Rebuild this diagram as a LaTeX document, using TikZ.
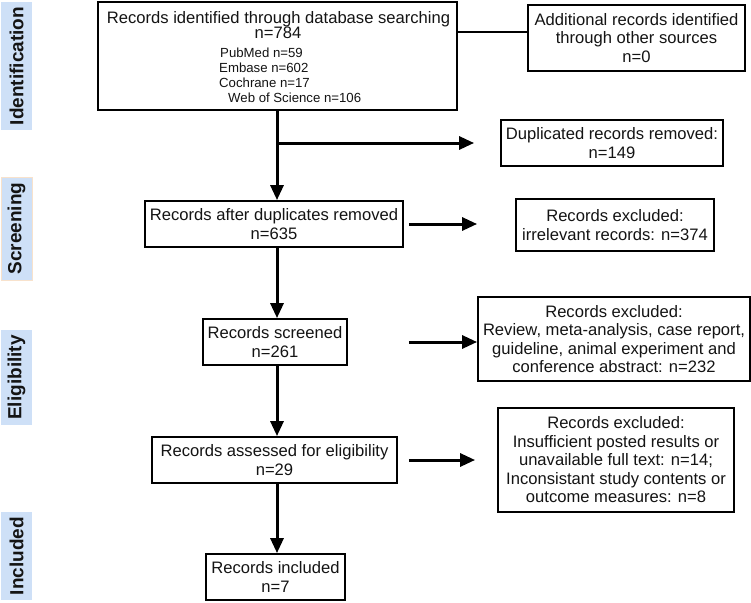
\documentclass[tikz,border=0pt]{standalone}
\usepackage{fontspec}
\setmainfont{Liberation Sans}
\usetikzlibrary{arrows.meta}
\definecolor{sidefill}{RGB}{206,224,247}
\definecolor{sideedge}{RGB}{248,226,204}
\definecolor{ink}{RGB}{20,20,20}
\begin{document}
\begin{tikzpicture}[x=1pt,y=-1pt,
  box/.style={draw=black, line width=1.8pt, fill=white, align=center, inner sep=0pt,
    font=\fontsize{16.6}{18.5}\selectfont, text=ink},
  boxtext/.style={inner sep=0pt, text=ink, font=\fontsize{16.6}{18.5}\selectfont},
  subtext/.style={inner sep=0pt, text=ink, font=\fontsize{13.2}{15}\selectfont},
  arr/.style={line width=3pt, -{Triangle[length=15pt,width=13pt]}},
  joinline/.style={line width=1.5pt},
  side/.style={fill=sidefill, rotate=90, inner sep=0pt, text=ink,
    font=\bfseries\fontsize{19}{19}\selectfont}]
\useasboundingbox (0,0) rectangle (751,602);

% side labels
\node[side, minimum width=128pt, minimum height=31pt] (sid) at (16.5,66) {Identification};
\node[side, draw=sideedge, line width=0.8pt, minimum width=103pt, minimum height=31pt] (ssc) at (16.5,228.5) {Screening};
\node[side, minimum width=95pt, minimum height=31pt] (sel) at (16.5,377.5) {Eligibility};
\node[side, minimum width=88pt, minimum height=31pt] (sin) at (16.5,556) {Included};

% main column
\node[box, minimum width=359pt, minimum height=108pt] (B1) at (277.5,56) {};
\node[boxtext, anchor=base] (B1a) at (278.5,24) {Records identified through database searching};
\node[boxtext, anchor=base] (B1b) at (278,39) {n=784};
\node[subtext, anchor=base west] (B1c) at (220,57) {PubMed n=59};
\node[subtext, anchor=base west] (B1d) at (219,72) {Embase n=602};
\node[subtext, anchor=base west] (B1e) at (219,87) {Cochrane n=17};
\node[subtext, anchor=base west] (B1f) at (228,102) {Web of Science n=106};

\node[box, minimum width=258pt, minimum height=46pt] (B2) at (274,224) {Records after duplicates removed\\n=635};
\node[box, minimum width=144pt, minimum height=46pt] (B3) at (275,342) {Records screened\\n=261};
\node[box, minimum width=245pt, minimum height=46pt] (B4) at (274.5,460) {Records assessed for eligibility\\n=29};
\node[box, minimum width=139pt, minimum height=46pt] (B5) at (275.5,577) {Records included\\n=7};

% right column
\node[box, minimum width=217pt, minimum height=66pt] (A) at (636.5,38) {Additional records identified\\through other sources\\n=0};
\node[box, minimum width=222pt, minimum height=46pt] (D) at (612,143) {Duplicated records removed:\\n=149};
\node[box, minimum width=198pt, minimum height=52pt] (I) at (615,225) {Records excluded:\\irrelevant records: n=374};
\node[box, minimum width=272pt, minimum height=84pt] (R) at (614,339) {Records excluded:\\Review, meta-analysis, case report,\\guideline, animal experiment and\\conference abstract: n=232};
\node[box, minimum width=236pt, minimum height=104pt] (X) at (616,460) {Records excluded:\\Insufficient posted results or\\unavailable full text: n=14;\\Inconsistant study contents or\\outcome measures: n=8};

% connectors
\coordinate (sp) at (277,0);
\coordinate (br) at (277,143);
\coordinate (jn) at (457,32);
\draw[joinline] (jn) -- (jn -| A.west);
\draw[arr] (B1.south -| sp) -- (B2.north -| sp);
\draw[arr, shorten >=26pt] (br) -- (D.west |- br);
\draw[arr] (B2.south -| sp) -- (B3.north -| sp);
\draw[arr] (B3.south -| sp) -- (B4.north -| sp);
\draw[arr] (B4.south -| sp) -- (B5.north -| sp);
\draw[arr, shorten >=38pt] ([xshift=5pt]B2.east) -- (I.west |- B2.east);
\draw[arr] ([xshift=61pt]B3.east) -- (R.west |- B3.east);
\draw[arr, shorten >=22pt] ([xshift=11pt]B4.east) -- (X.west |- B4.east);
\end{tikzpicture}
\end{document}
